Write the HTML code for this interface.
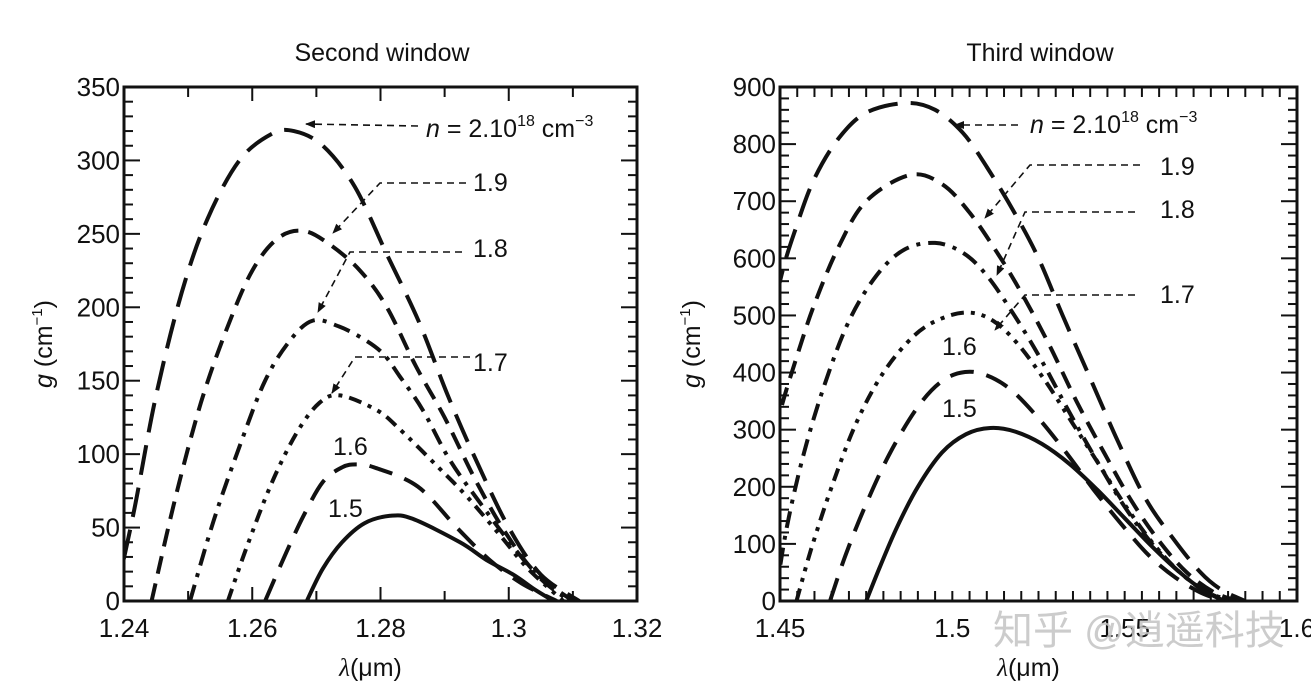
<!DOCTYPE html>
<html><head><meta charset="utf-8">
<style>
html,body{margin:0;padding:0;background:#fff;}
svg{display:block;font-family:"Liberation Sans","Noto Sans CJK SC",sans-serif;}
</style></head>
<body>
<svg id="fig" width="1311" height="683" viewBox="0 0 1311 683" xmlns="http://www.w3.org/2000/svg">
<defs>
<clipPath id="clipL"><rect x="124" y="87" width="513" height="514"/></clipPath>
<clipPath id="clipR"><rect x="780" y="87" width="517" height="514"/></clipPath>
<marker id="arr" markerWidth="10" markerHeight="8" refX="9" refY="4" orient="auto" markerUnits="userSpaceOnUse"><path d="M0,0 L10,4 L0,8 z" fill="#111"/></marker>
</defs>
<g id="root"></g>
<text x="993" y="644" font-size="40" fill="#c4c4c4" opacity="0.85">知乎 @逍遥科技</text>
</svg>
<script>
// ---------- data: left chart (Second window) ----------
const leftXTicks = [1.24, 1.26, 1.28, 1.3, 1.32];
const leftYTicks = [0, 50, 100, 150, 200, 250, 300, 350];
const leftN20 = [[1.2385,0],[1.2415,60],[1.245,140],[1.249,210],[1.253,260],[1.258,300],[1.263,318],[1.2665,320],[1.271,310],[1.276,282],[1.281,236],[1.286,190],[1.2905,140],[1.295,95],[1.300,50],[1.305,18],[1.311,0]];
const leftN19 = [[1.2443,0],[1.248,70],[1.252,135],[1.256,185],[1.260,225],[1.264,247],[1.268,252],[1.272,243],[1.2768,225],[1.281,200],[1.2855,160],[1.290,125],[1.2945,85],[1.299,50],[1.304,20],[1.310,0]];
const leftN18 = [[1.2503,0],[1.254,55],[1.258,105],[1.262,150],[1.266,178],[1.2695,191],[1.2735,187],[1.2775,178],[1.2805,168],[1.283,153],[1.2866,130],[1.2908,96],[1.2955,67],[1.3005,38],[1.305,15],[1.3095,0]];
const leftN17 = [[1.2562,0],[1.259,35],[1.263,80],[1.267,115],[1.2705,135],[1.2737,140],[1.2794,130],[1.283,117],[1.2888,92],[1.2935,71],[1.2986,45],[1.303,22],[1.3085,0]];
const leftN16 = [[1.262,0],[1.265,30],[1.268,58],[1.271,81],[1.274,91],[1.2763,93],[1.279,91],[1.2858,78],[1.2919,50],[1.297,28],[1.302,12],[1.3075,0]];
const leftN15 = [[1.2685,0],[1.271,22],[1.274,40],[1.2775,53],[1.2815,58],[1.285,56],[1.2924,40],[1.2965,28],[1.3007,18],[1.304,8],[1.307,0]];
// ---------- data: right chart (Third window) ----------
const rightXTicks = [1.45, 1.5, 1.55, 1.6];
const rightXTickLabels = ["1.45", "1.5", "1.55", "1.6"];
const rightYTicks = [0, 100, 200, 300, 400, 500, 600, 700, 800, 900];
const rightN20 = [[1.444,380],[1.45,560],[1.455,660],[1.46,740],[1.467,810],[1.475,855],[1.4865,872],[1.495,860],[1.503,820],[1.51,760],[1.518,680],[1.525,600],[1.532,500],[1.54,390],[1.548,280],[1.556,180],[1.564,110],[1.572,50],[1.578,20],[1.585,0]];
const rightN19 = [[1.445,200],[1.45,330],[1.455,430],[1.46,520],[1.467,620],[1.475,700],[1.4877,746],[1.497,730],[1.505,680],[1.513,610],[1.52,540],[1.528,450],[1.536,350],[1.544,260],[1.552,175],[1.56,105],[1.568,50],[1.576,15],[1.583,0]];
const rightN18 = [[1.4485,0],[1.452,130],[1.457,260],[1.463,380],[1.47,490],[1.478,570],[1.486,615],[1.495,627],[1.503,610],[1.51,570],[1.518,500],[1.526,420],[1.534,330],[1.542,245],[1.55,165],[1.558,100],[1.566,50],[1.574,15],[1.582,0]];
const rightN17 = [[1.4548,0],[1.459,90],[1.465,200],[1.472,310],[1.48,400],[1.489,465],[1.497,495],[1.505,505],[1.512,490],[1.519,450],[1.527,385],[1.535,310],[1.543,235],[1.551,160],[1.559,95],[1.567,45],[1.575,12],[1.582,0]];
const rightN16 = [[1.4645,0],[1.469,80],[1.475,170],[1.482,260],[1.49,340],[1.497,385],[1.5037,401],[1.51,395],[1.517,370],[1.525,320],[1.533,260],[1.541,195],[1.549,135],[1.557,80],[1.565,40],[1.573,12],[1.580,0]];
const rightN15 = [[1.475,0],[1.479,60],[1.484,130],[1.49,200],[1.497,260],[1.504,292],[1.511,303],[1.518,297],[1.526,275],[1.534,240],[1.542,195],[1.55,145],[1.558,95],[1.566,50],[1.573,18],[1.579,0]];

const NS = "http://www.w3.org/2000/svg";
const root = document.getElementById("root");
function mk(tag, attrs, parent){
  const e = document.createElementNS(NS, tag);
  for (const k in attrs) e.setAttribute(k, attrs[k]);
  (parent||root).appendChild(e);
  return e;
}
function smoothPath(pts){
  let d = "M" + pts[0][0].toFixed(1) + "," + pts[0][1].toFixed(1);
  for (let i=0;i<pts.length-1;i++){
    const p0 = pts[i-1]||pts[i], p1 = pts[i], p2 = pts[i+1], p3 = pts[i+2]||pts[i+1];
    const c1 = [p1[0]+(p2[0]-p0[0])/6, p1[1]+(p2[1]-p0[1])/6];
    const c2 = [p2[0]-(p3[0]-p1[0])/6, p2[1]-(p3[1]-p1[1])/6];
    d += " C"+c1[0].toFixed(1)+","+c1[1].toFixed(1)+" "+c2[0].toFixed(1)+","+c2[1].toFixed(1)+" "+p2[0].toFixed(1)+","+p2[1].toFixed(1);
  }
  return d;
}

function drawChart(cfg){
  const g = mk("g", {});
  
  
  const X = v => cfg.x0 + (v - cfg.xmin)/(cfg.xmax - cfg.xmin)*(cfg.x1 - cfg.x0);
  const Y = v => cfg.y0 - (v - cfg.ymin)/(cfg.ymax - cfg.ymin)*(cfg.y0 - cfg.y1);
  const tk = mk("g", {stroke:"#111","stroke-width":2}, g);
  
  
  const nx = Math.round((cfg.xmax-cfg.xmin)/cfg.xMinor);
  for (let i=0;i<=nx;i++){
    const v = cfg.xmin + i*cfg.xMinor, px = X(v);
    const len = cfg.xMajorEvery && i%cfg.xMajorEvery===0 ? 14 : 10;
    mk("line",{x1:px,y1:cfg.y0,x2:px,y2:cfg.y0-len},tk);
    mk("line",{x1:px,y1:cfg.y1,x2:px,y2:cfg.y1+len},tk);
  }
  const ny = Math.round((cfg.ymax-cfg.ymin)/cfg.yMinor);
  for (let i=0;i<=ny;i++){
    const v = cfg.ymin + i*cfg.yMinor, py = Y(v);
    const len = i%cfg.yMajorEvery===0 ? 16 : 9;
    mk("line",{x1:cfg.x0,y1:py,x2:cfg.x0+len,y2:py},tk);
    mk("line",{x1:cfg.x1,y1:py,x2:cfg.x1-len,y2:py},tk);
  }
  const fr = mk("rect",{x:cfg.x0,y:cfg.y1,width:cfg.x1-cfg.x0,height:cfg.y0-cfg.y1,fill:"none",stroke:"#111","stroke-width":3},g);
  
  
  cfg.xTicks.forEach((v,i)=>{
    const t = mk("text",{x:X(v),y:cfg.y0+36,"font-size":26,"text-anchor":"middle",fill:"#111"},g);
    t.textContent = cfg.xLabels ? cfg.xLabels[i] : String(v);
    
    
  });
  cfg.yTicks.forEach(v=>{
    const t = mk("text",{x:cfg.x0-4,y:Y(v)+9,"font-size":26,"text-anchor":"end",fill:"#111"},g);
    t.textContent = String(v);
    
    
  });
  const tt = mk("text",{x:cfg.titleX,y:61,"font-size":25,"text-anchor":"middle",fill:"#111"},g);
  tt.textContent = cfg.title;
  
  
  const xt = mk("text",{x:(cfg.x0+cfg.x1)/2-10,y:676,"font-size":25,"text-anchor":"middle",fill:"#111"},g);
  xt.innerHTML = '<tspan font-family="Liberation Serif, serif" font-style="italic">λ</tspan>(μm)';
  
  
  const yt = mk("text",{x:0,y:0,"font-size":25,"text-anchor":"middle",fill:"#111",transform:"translate("+cfg.yTitleX+","+((cfg.y0+cfg.y1)/2)+") rotate(-90)"},g);
  yt.innerHTML = '<tspan font-style="italic">g</tspan> (cm<tspan font-size="15" dy="-10">−1</tspan><tspan dy="10">)</tspan>';
  
  
  const sg = mk("g",{"clip-path":"url(#"+cfg.clip+")"},g);
  cfg.series.forEach(s=>{
    const pts = s.data.map(p=>[X(p[0]),Y(p[1])]);
    const p = mk("path",{d:smoothPath(pts),fill:"none",stroke:"#111","stroke-width":4,"stroke-dasharray":s.dash,"stroke-linecap":"butt"},sg);
    
    
  });
  return {X,Y,g};
}

const dashes = {n20:"30 13", n19:"18 10", n18:"17 8 4 8", n17:"13 7 4 7 4 7", n16:"24 13", n15:"none"};

drawChart({name:"second-window-chart",title:"Second window",titleX:382,x0:124,x1:637,y0:601,y1:87,
  xmin:1.24,xmax:1.32,ymin:0,ymax:350,xMinor:0.01,xMajorEvery:2,yMinor:10,yMajorEvery:5,
  xTicks:leftXTicks,yTicks:leftYTicks,yTitleX:52,clip:"clipL",
  series:[{name:"curve-n-2.0",data:leftN20,dash:dashes.n20},{name:"curve-n-1.9",data:leftN19,dash:dashes.n19},
  {name:"curve-n-1.8",data:leftN18,dash:dashes.n18},{name:"curve-n-1.7",data:leftN17,dash:dashes.n17},
  {name:"curve-n-1.6",data:leftN16,dash:dashes.n16},{name:"curve-n-1.5",data:leftN15,dash:dashes.n15}]});

drawChart({name:"third-window-chart",title:"Third window",titleX:1040,x0:780,x1:1297,y0:601,y1:87,
  xmin:1.45,xmax:1.6,ymin:0,ymax:900,xMinor:0.005,xMajorEvery:0,yMinor:20,yMajorEvery:5,
  xTicks:rightXTicks,xLabels:rightXTickLabels,yTicks:rightYTicks,yTitleX:700,clip:"clipR",
  series:[{name:"curve-n-2.0",data:rightN20,dash:dashes.n20},{name:"curve-n-1.9",data:rightN19,dash:dashes.n19},
  {name:"curve-n-1.8",data:rightN18,dash:dashes.n18},{name:"curve-n-1.7",data:rightN17,dash:dashes.n17},
  {name:"curve-n-1.6",data:rightN16,dash:dashes.n16},{name:"curve-n-1.5",data:rightN15,dash:dashes.n15}]});

function leader(name, pts){
  const p = mk("polyline",{points:pts.map(q=>q.join(",")).join(" "),fill:"none",stroke:"#111","stroke-width":1.6,"stroke-dasharray":"7 5","marker-end":"url(#arr)"});
  
  
}
function label(name, x, y, html){
  const t = mk("text",{x:x,y:y,"font-size":25,fill:"#111"});
  t.innerHTML = html;
  
  
}
const nLab = '<tspan font-style="italic">n</tspan> = 2.10<tspan font-size="16" dy="-11">18</tspan><tspan dy="11"> cm</tspan><tspan font-size="16" dy="-11">−3</tspan>';
leader("leader-n-2.0",[[418,126],[306,124]]);
label("label-n-2.0",426,137,nLab);
leader("leader-1.9",[[466,183],[380,183],[333,233]]);
label("label-1.9",473,191,"1.9");
leader("leader-1.8",[[462,252],[350,252],[318,312]]);
label("label-1.8",473,257,"1.8");
leader("leader-1.7",[[470,357],[355,357],[332,393]]);
label("label-1.7",473,371,"1.7");
label("label-1.6",333,455,"1.6");
label("label-1.5",328,517,"1.5");
leader("leader-n-2.0",[[1018,125],[955,125]]);
label("label-n-2.0",1030,133,nLab);
leader("leader-1.9",[[1140,165],[1030,165],[985,218]]);
label("label-1.9",1160,175,"1.9");
leader("leader-1.8",[[1135,212],[1025,212],[997,275]]);
label("label-1.8",1160,218,"1.8");
leader("leader-1.7",[[1135,295],[1025,295],[995,330]]);
label("label-1.7",1160,303,"1.7");
label("label-1.6",942,355,"1.6");
label("label-1.5",942,417,"1.5");
</script>
</body></html>
